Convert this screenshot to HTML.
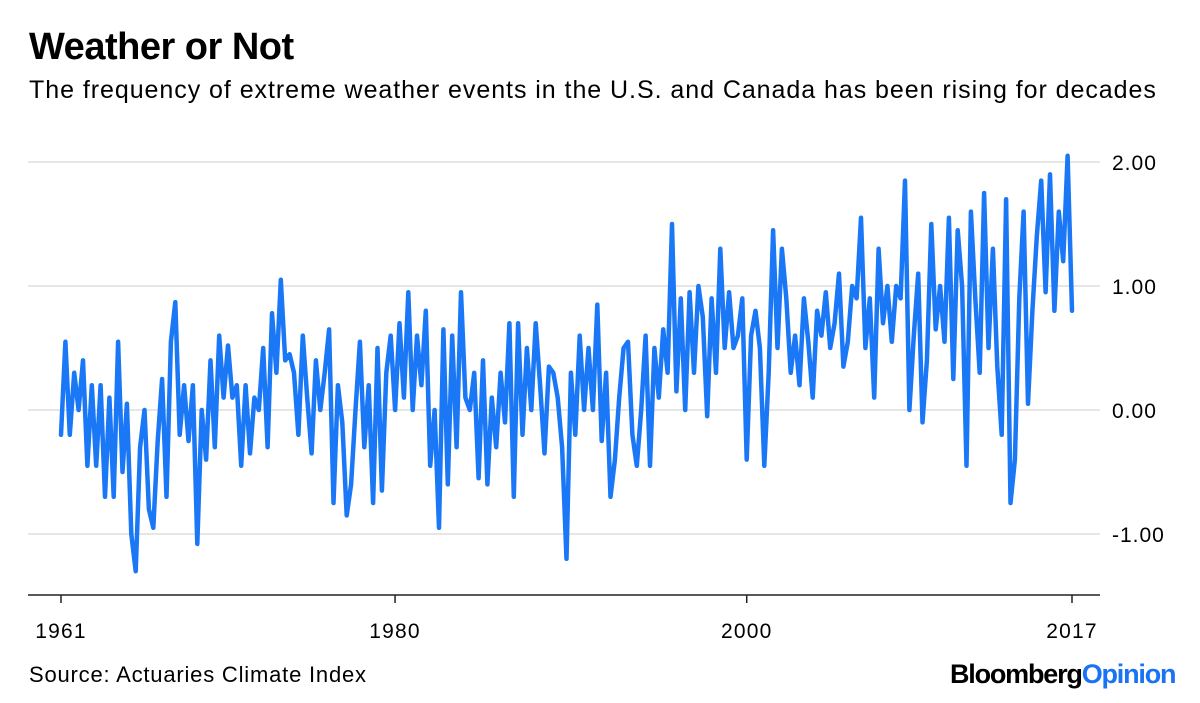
<!DOCTYPE html>
<html><head><meta charset="utf-8"><style>
body{margin:0;width:1200px;height:703px;background:#fff;font-family:"Liberation Sans",sans-serif;overflow:hidden;position:relative}
.t{position:absolute;white-space:nowrap;color:#000}
</style></head><body>
<div class="t" style="left:29px;top:26px;font-size:38px;font-weight:bold;letter-spacing:-0.5px">Weather or Not</div>
<div class="t" style="left:29px;top:76px;font-size:25px;letter-spacing:0.95px">The frequency of extreme weather events in the U.S. and Canada has been rising for decades</div>
<svg id="chart" width="1200" height="703" style="position:absolute;left:0;top:0"></svg>
<div class="t" style="left:29px;top:662px;font-size:22px;letter-spacing:0.8px">Source: Actuaries Climate Index</div>
<div class="t" style="left:950px;top:659px;font-size:27px;font-weight:bold;letter-spacing:-1.2px">Bloomberg<span style="color:#1a73f5">Opinion</span></div>
<script>
const values = [
-0.2,0.55,-0.2,0.3,0.0,0.4,-0.45,0.2,-0.45,0.2,-0.7,0.1,-0.7,0.55,-0.5,0.05,-1.0,-1.3,-0.3,0.0,-0.8,-0.95,-0.25,
0.25,-0.7,0.55,0.87,-0.2,0.2,-0.25,0.2,-1.08,0.0,-0.4,0.4,-0.3,0.6,0.1,0.52,0.1,0.2,-0.45,0.2,-0.35,0.1,0.0,
0.5,-0.3,0.78,0.3,1.05,0.4,0.45,0.3,-0.2,0.6,0.1,-0.35,0.4,0.0,0.3,0.65,-0.75,0.2,-0.1,-0.85,-0.6,0.0,0.55,
-0.3,0.2,-0.75,0.5,-0.65,0.3,0.6,0.0,0.7,0.1,0.95,0.0,0.6,0.2,0.8,-0.45,0.0,-0.95,0.65,-0.6,0.6,-0.3,0.95,
0.1,0.0,0.3,-0.55,0.4,-0.6,0.1,-0.3,0.3,-0.1,0.7,-0.7,0.7,-0.2,0.5,0.0,0.7,0.2,-0.35,0.35,0.3,0.1,-0.3,
-1.2,0.3,-0.2,0.6,0.0,0.5,0.0,0.85,-0.25,0.3,-0.7,-0.4,0.1,0.5,0.55,-0.2,-0.45,0.0,0.6,-0.45,0.5,0.1,0.65,
0.3,1.5,0.15,0.9,0.0,0.95,0.3,1.0,0.75,-0.05,0.9,0.3,1.3,0.5,0.95,0.5,0.6,0.9,-0.4,0.6,0.8,0.5,-0.45,
0.3,1.45,0.5,1.3,0.9,0.3,0.6,0.2,0.9,0.55,0.1,0.8,0.6,0.95,0.5,0.7,1.1,0.35,0.55,1.0,0.9,1.55,0.5,
0.9,0.1,1.3,0.7,1.0,0.55,1.0,0.9,1.85,0.0,0.6,1.1,-0.1,0.4,1.5,0.65,1.0,0.55,1.55,0.25,1.45,1.0,-0.45,
1.6,0.9,0.3,1.75,0.5,1.3,0.35,-0.2,1.7,-0.75,-0.4,0.9,1.6,0.05,0.8,1.4,1.85,0.95,1.9,0.8,1.6,1.2,2.05,0.8
];
const startYear = 1961;
const yTicks = [2, 1, 0, -1];
const yTickLabels = ['2.00','1.00','0.00','-1.00'];
const xTicks = [1961, 1980, 2000, 2018.5];
const xTickLabels = ['1961','1980','2000','2017'];

const svg = document.getElementById('chart');
const NS = 'http://www.w3.org/2000/svg';
const endYear = startYear + (values.length - 1) / 4;
const x = yr => 61 + (yr - startYear) / (endYear - startYear) * (1072 - 61);
const y = v => 410 - v * 124;
function mk(tag, attrs){const e=document.createElementNS(NS,tag);for(const k in attrs)e.setAttribute(k,attrs[k]);svg.appendChild(e);return e;}

yTicks.forEach((v,i)=>{
  const g = mk('line',{x1:28,x2:1100,y1:y(v),y2:y(v),stroke:'#e6e6e6','stroke-width':2});
  
  
  const t = mk('text',{x:1112,y:y(v)+8,'font-size':21,'letter-spacing':1,'font-family':'Liberation Sans, sans-serif',fill:'#000'});
  t.textContent = yTickLabels[i];
  
  
});
const ax = mk('line',{x1:28,x2:1100,y1:595,y2:595,stroke:'#222','stroke-width':1.5});


xTicks.forEach((v,i)=>{
  const tk = mk('line',{x1:x(v),x2:x(v),y1:595,y2:603,stroke:'#222','stroke-width':1.5});
  
  
  const t = mk('text',{x:x(v),y:638,'font-size':21,'letter-spacing':1.2,'text-anchor':'middle','font-family':'Liberation Sans, sans-serif',fill:'#000'});
  t.textContent = xTickLabels[i];
  
  
});
const d = values.map((v,i)=>(i?'L':'M')+x(startYear+i/4).toFixed(1)+','+y(v).toFixed(1)).join('');
const line = mk('path',{d:d,fill:'none',stroke:'#1a78f7','stroke-width':4.5,'stroke-linejoin':'round','stroke-linecap':'round'});


</script>
</body></html>
